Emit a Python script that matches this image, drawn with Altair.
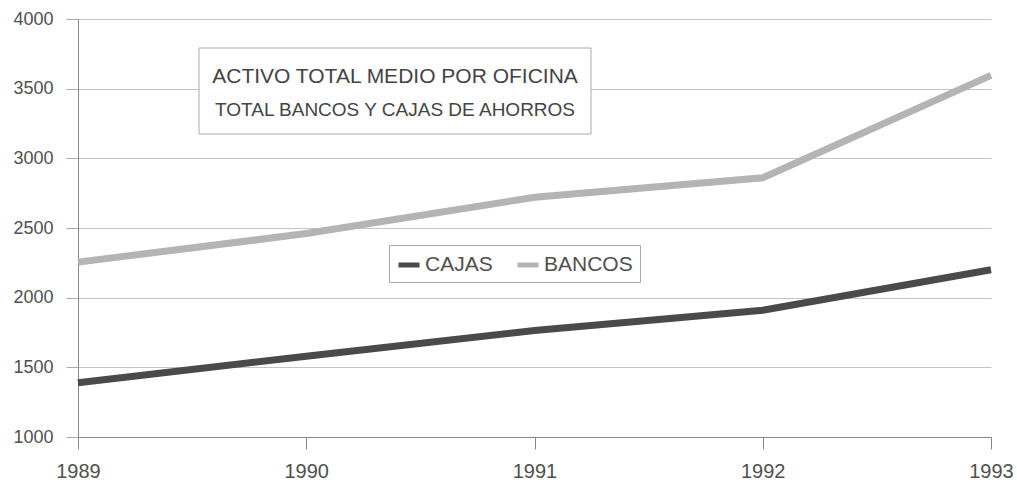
import altair as alt
import pandas as pd

years = [1989, 1990, 1991, 1992, 1993]
cajas = [1390, 1580, 1765, 1910, 2200]
bancos = [2255, 2460, 2720, 2860, 3595]
series_names = ["CAJAS", "BANCOS"]
series_colors = ["#4a4a4a", "#b4b4b4"]
title_lines = ["ACTIVO TOTAL MEDIO POR OFICINA", "TOTAL BANCOS Y CAJAS DE AHORROS"]

rows = []
for y, c, b in zip(years, cajas, bancos):
    rows.append({"year": y, "serie": "CAJAS", "value": c})
    rows.append({"year": y, "serie": "BANCOS", "value": b})
df = pd.DataFrame(rows)

W, H = 913, 418
FONT = "Liberation Sans"
TXT = "#505050"

lines = alt.Chart(df).mark_line(strokeWidth=7, strokeCap="butt").encode(
    x=alt.X("year:Q",
            scale=alt.Scale(domain=[1989, 1993], nice=False, zero=False),
            axis=alt.Axis(values=years, format="d", grid=False, tickSize=12,
                          tickColor="#888", domainColor="#888", labelFontSize=20,
                          labelColor=TXT, labelPadding=12, labelFont=FONT,
                          title=None, labelFlush=False)),
    y=alt.Y("value:Q",
            scale=alt.Scale(domain=[1000, 4000], nice=False, zero=False),
            axis=alt.Axis(values=[1000, 1500, 2000, 2500, 3000, 3500, 4000],
                          format="d",
                          grid=True, gridColor="#c4c4c4", gridWidth=1,
                          tickSize=12, tickColor="#aaa", domainColor="#888",
                          labelFontSize=18, labelColor=TXT, labelPadding=13,
                          labelFont=FONT, title=None)),
    color=alt.Color("serie:N",
                    scale=alt.Scale(domain=series_names, range=series_colors),
                    sort=series_names,
                    legend=alt.Legend(orient="none", legendX=311, legendY=226,
                                      direction="horizontal", title=None,
                                      symbolType="stroke", symbolStrokeWidth=5,
                                      symbolSize=440, labelFontSize=21,
                                      labelColor=TXT, labelFont=FONT,
                                      strokeColor="#aaa", padding=7,
                                      columnPadding=14, labelOffset=3,
                                      fillColor="white")),
    order=alt.Order("year:Q"),
)

box = alt.Chart(pd.DataFrame({"k": [0]})).mark_rect(
    fill="white", stroke="#aaa", strokeWidth=1
).encode(x=alt.value(121), x2=alt.value(513), y=alt.value(29), y2=alt.value(115))

t1 = alt.Chart(pd.DataFrame({"t": [title_lines[0]]})).mark_text(
    fontSize=21, font=FONT, color="#444", align="center", baseline="middle"
).encode(text="t:N", x=alt.value(317), y=alt.value(58))

t2 = alt.Chart(pd.DataFrame({"t": [title_lines[1]]})).mark_text(
    fontSize=19, font=FONT, color="#444", align="center", baseline="middle"
).encode(text="t:N", x=alt.value(317), y=alt.value(91))

chart = alt.layer(box, t1, t2, lines).properties(
    width=W, height=H,
    autosize=alt.AutoSizeParams(type="none"),
    padding={"left": 78, "top": 19, "right": 26, "bottom": 45},
    background="white",
).configure_view(stroke=None)

chart.save("out.html", embed_options={"renderer": "svg", "actions": False})
